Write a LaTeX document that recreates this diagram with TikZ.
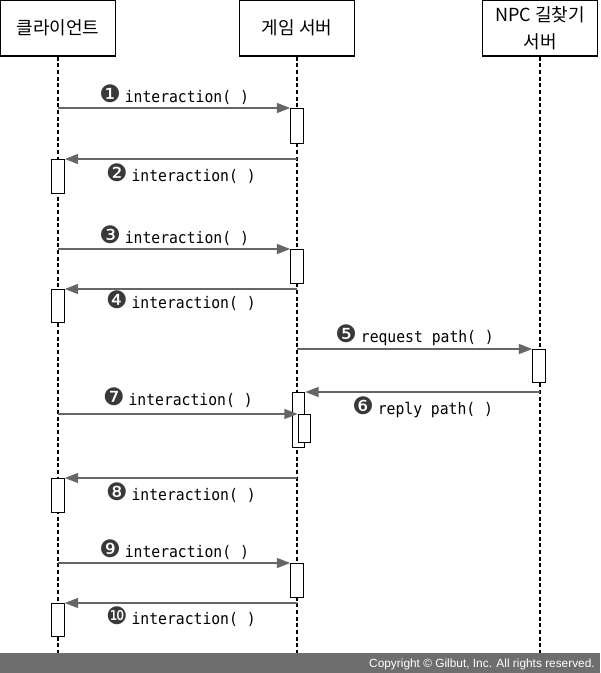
\documentclass[tikz,border=0pt]{standalone}
\usepackage{fontspec}
\setmainfont{Liberation Sans}
\setmonofont[FakeStretch=0.92]{DejaVu Sans Mono}
\newfontfamily\krfont{Noto Sans CJK KR}
\newfontfamily\numfont{DejaVu Sans}
\usepackage{xcolor}
\usepackage{tikz}
\usetikzlibrary{arrows.meta,positioning}
\definecolor{msggray}{HTML}{666666}
\definecolor{bargray}{HTML}{6E6E6E}
\newcommand{\msgtxt}[2]{{\numfont\fontsize{18pt}{14pt}\selectfont\color{darkgray!90!black}#1}\kern3pt\texttt{#2}}

\begin{document}
\begin{tikzpicture}[x=0.75pt, y=-0.75pt,
  actor/.style={draw=black, fill=white, line width=0.8pt, align=center,
                font=\krfont\fontsize{13.5pt}{20pt}\selectfont,
                minimum width=86pt, minimum height=42pt, inner sep=2pt},
  life/.style={black, line width=0.8pt, dash pattern=on 3pt off 2pt},
  act/.style={draw=black, fill=white, line width=0.7pt, minimum width=9.5pt,
              inner sep=0pt, anchor=north},
  msg/.style={-{Triangle[length=10pt,width=7.5pt]}, line width=1pt, msggray},
  lbl/.style={font=\fontsize{12pt}{14pt}\selectfont, text=black, midway, inner sep=2pt},
]
\useasboundingbox (0,0) rectangle (600,673);

% actors
\node[actor] (client) at (58,28) {클라이언트};
\node[actor] (server) at (297,28) {게임 서버};
\node[actor] (npc) at (540,28) {NPC 길찾기\\서버};

% lifelines
\coordinate (clientEnd) at (58,653);
\coordinate (serverEnd) at (297,653);
\coordinate (npcEnd) at (540,653);
\draw[life] (client.south) -- (clientEnd);
\draw[life] (server.south) -- (serverEnd);
\draw[life] (npc.south) -- (npcEnd);

% activations
\node[act, minimum height=26pt] (s1) at (297,108) {};
\node[act, minimum height=25.5pt] (c2) at (58,159) {};
\node[act, minimum height=25.5pt] (s3) at (297,249) {};
\node[act, minimum height=25pt] (c4) at (58,289) {};
\node[act, minimum height=25pt] (n5) at (539,349) {};
\node[act, minimum height=41pt] (s6) at (298.5,392) {};
\node[act, minimum height=21pt] (s7) at (304.5,414) {};
\node[act, minimum height=25.5pt] (c8) at (58,478) {};
\node[act, minimum height=25.5pt] (s9) at (297,563) {};
\node[act, minimum height=25pt] (c10) at (58,603) {};

% messages
\draw[msg] (client |- s1.north) -- (s1.north west) node[lbl, above] {\msgtxt{❶}{interaction( )}};
\draw[msg] (server |- c2.north) -- (c2.north east) node[lbl, below, yshift=-1pt] {\msgtxt{❷}{interaction( )}};
\draw[msg] (client |- s3.north) -- (s3.north west) node[lbl, above] {\msgtxt{❸}{interaction( )}};
\draw[msg] (server |- c4.north) -- (c4.north east) node[lbl, below, yshift=1pt] {\msgtxt{❹}{interaction( )}};
\draw[msg] (server |- n5.north) -- (n5.north west) node[lbl, above] {\msgtxt{❺}{request path( )}};
\draw[msg] (npc |- s6.north) -- (s6.north east) node[lbl, below, yshift=-1pt] {\msgtxt{❻}{reply path( )}};
\draw[msg] (client |- s7.north) -- (s7.north west) node[lbl, above, yshift=2pt] {\msgtxt{❼}{interaction( )}};
\draw[msg] (server |- c8.north) -- (c8.north east) node[lbl, below, yshift=-1pt] {\msgtxt{❽}{interaction( )}};
\draw[msg] (client |- s9.north) -- (s9.north west) node[lbl, above] {\msgtxt{❾}{interaction( )}};
\draw[msg] (server |- c10.north) -- (c10.north east) node[lbl, below] {\msgtxt{❿}{interaction( )}};

% footer
\fill[bargray] (0,653) rectangle (600,673);
\node[anchor=east, text=white, font=\fontsize{8.9pt}{10pt}\selectfont, inner sep=0pt] (copy) at (595,664) {Copyright © Gilbut, Inc. All rights reserved.};
\end{tikzpicture}
\end{document}
